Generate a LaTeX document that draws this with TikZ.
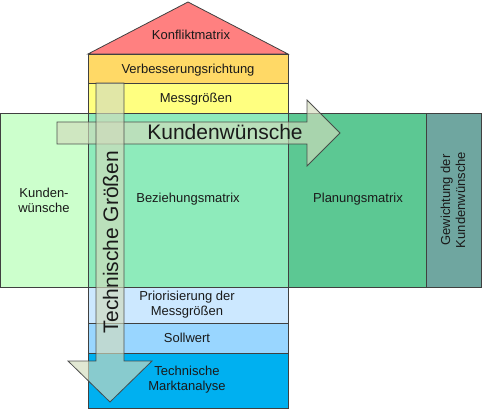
\documentclass[tikz,border=0pt]{standalone}
\usepackage{fontspec}
\setmainfont{Liberation Sans}
\usetikzlibrary{positioning}
\definecolor{cRoof}{HTML}{FF8080}
\definecolor{cVerb}{HTML}{FFD966}
\definecolor{cMess}{HTML}{FFFF80}
\definecolor{cKw}{HTML}{CCFFCC}
\definecolor{cBez}{HTML}{8EEBBB}
\definecolor{cPlan}{HTML}{5CC893}
\definecolor{cGew}{HTML}{6FA6A0}
\definecolor{cPrio}{HTML}{CCE8FF}
\definecolor{cSoll}{HTML}{99D6FF}
\definecolor{cMarkt}{HTML}{00B0F0}
\definecolor{cLine}{HTML}{404040}
\definecolor{cArrow}{HTML}{D2DBBC}
\definecolor{cText}{HTML}{1A1A1A}
\tikzset{
  box/.style={draw=cLine, line width=0.8pt},
  lbl/.style={font=\fontsize{13}{15}\selectfont, text=cText, align=center, inner sep=0pt},
  big/.style={font=\fontsize{21}{24}\selectfont, text=cText, inner sep=0pt},
  bigarrow/.style={draw=cLine, line width=0.8pt, fill=cArrow, fill opacity=0.65, draw opacity=0.9},
}
\begin{document}
\begin{tikzpicture}[x=1pt,y=-1pt]
\useasboundingbox (0,0) rectangle (482,409);
% roof
\filldraw[box, fill=cRoof] (88,54) -- (188,2) -- (288,54) -- cycle;
\node[lbl] (roof) at (191,35) {Konfliktmatrix};
% upper boxes
\filldraw[box, fill=cVerb] (88,54) rectangle (288,83);
\node[lbl] (verb) at (188,70) {Verbesserungsrichtung};
\filldraw[box, fill=cMess] (88,83) rectangle (288,113);
\node[lbl] (mess) at (196,99) {Messgrößen};
% middle row
\filldraw[box, fill=cKw] (0,113) rectangle (88,287);
\node[lbl] (kw) at (44,200) {Kunden-\\wünsche};
\filldraw[box, fill=cBez] (88,113) rectangle (288,287);
\node[lbl] (bez) at (188,199) {Beziehungsmatrix};
\filldraw[box, fill=cPlan] (288,113) rectangle (426,287);
\node[lbl] (plan) at (358,199) {Planungsmatrix};
\filldraw[box, fill=cGew] (426,113) rectangle (481,287);
\node[lbl, rotate=90] (gew) at (453,200) {Gewichtung der\\Kundenwünsche};
% lower boxes
\filldraw[box, fill=cPrio] (88,287) rectangle (288,323);
\node[lbl] (prio) at (187,305) {Priorisierung der\\Messgrößen};
\filldraw[box, fill=cSoll] (88,323) rectangle (288,353);
\node[lbl] (soll) at (187,338) {Sollwert};
\filldraw[box, fill=cMarkt] (88,353) rectangle (288,408);
\node[lbl] (markt) at (187,380) {Technische\\Marktanalyse};
% horizontal arrow
\filldraw[bigarrow] (57,122) -- (307,122) -- (307,100) -- (340,133) -- (307,166) -- (307,144) -- (57,144) -- cycle;
% vertical arrow
\filldraw[bigarrow] (96,83) -- (124,83) -- (124,361) -- (152,361) -- (110,402) -- (68,361) -- (96,361) -- cycle;
\node[big] (kwArrow) at (225,132) {Kundenwünsche};
\node[big, rotate=90] (tgArrow) at (110.5,242) {Technische Größen};
\end{tikzpicture}
\end{document}
